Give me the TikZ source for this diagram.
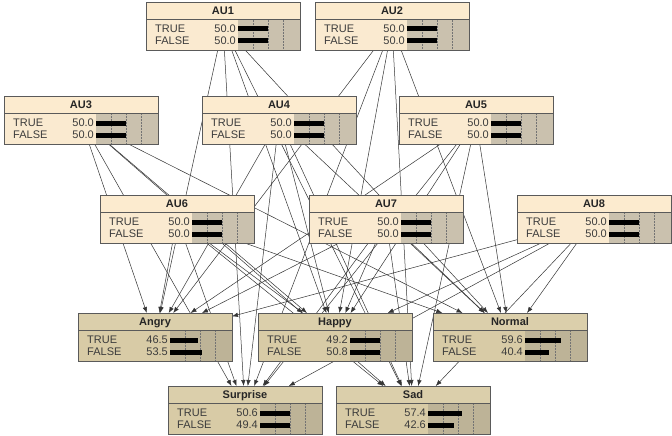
\documentclass[tikz,border=0pt]{standalone}
\usepackage{fontspec}
\setmainfont{Liberation Sans}
\usetikzlibrary{arrows.meta}
\pgfdeclarelayer{bg}
\pgfsetlayers{bg,main}
\definecolor{titleau}{HTML}{FCEBCF}
\definecolor{bodyau}{HTML}{FAEAD0}
\definecolor{barau}{HTML}{CAC1AE}
\definecolor{titleem}{HTML}{DBCFAB}
\definecolor{bodyem}{HTML}{D8CBA6}
\definecolor{barem}{HTML}{BDB397}
\definecolor{bordc}{HTML}{5A5A5A}
\definecolor{txtc}{HTML}{3C3C3C}
\definecolor{edgec}{HTML}{353535}
\tikzset{
  bnbox/.style={rectangle, anchor=north west, minimum width=154pt, minimum height=48pt, inner sep=0pt, outer sep=0pt},
  edge/.style={draw=edgec, line width=0.5pt, -{Latex[length=6pt,width=4.5pt]}},
  lbl/.style={inner sep=0pt, font=\fontsize{11}{13}\selectfont, text=txtc, text height=7.8pt, text depth=0pt},
  ttl/.style={inner sep=0pt, font=\fontsize{11}{13}\selectfont\bfseries, text=black!85, text height=7.8pt, text depth=0pt},
  bord/.style={draw=bordc, line width=0.8pt},
  tickln/.style={draw=black!55, densely dotted, line width=0.5pt}
}
\newcommand{\bnnode}[7]{%
  \node[bnbox, fill=body#7] (#1) at (#2,-#3) {};
  \begin{scope}[shift={(#1.north west)}]
    \fill[title#7] (0,0) rectangle (154,-17);
    \fill[bar#7] (92,-17) rectangle (154,-48);
    \foreach \p in {0.25,0.5,0.75}{\draw[tickln] ({92+60*\p},-18) -- ({92+60*\p},-48);}
    \fill[black] (92,-24.5) rectangle ({92+0.6*#5},-29.5);
    \fill[black] (92,-36.5) rectangle ({92+0.6*#6},-41.5);
    \draw[bord] (0,-17) -- (154,-17);
    \node[ttl] at (77,-8.5) {#4};
    \node[lbl, anchor=west] at (9,-27) {TRUE};
    \node[lbl, anchor=east] at (90,-27) {#5};
    \node[lbl, anchor=west] at (9,-39) {FALSE};
    \node[lbl, anchor=east] at (90,-39) {#6};
    \draw[bord] (0,0) rectangle (154,-48);
  \end{scope}
}
\begin{document}
\begin{tikzpicture}[x=1pt,y=1pt]
\useasboundingbox (0,0) rectangle (672,-436);
\bnnode{AU1}{146}{2}{AU1}{50.0}{50.0}{au}
\bnnode{AU2}{315}{2}{AU2}{50.0}{50.0}{au}
\bnnode{AU3}{4}{96}{AU3}{50.0}{50.0}{au}
\bnnode{AU4}{202}{96}{AU4}{50.0}{50.0}{au}
\bnnode{AU5}{399}{96}{AU5}{50.0}{50.0}{au}
\bnnode{AU6}{100}{195}{AU6}{50.0}{50.0}{au}
\bnnode{AU7}{309}{195}{AU7}{50.0}{50.0}{au}
\bnnode{AU8}{517}{195}{AU8}{50.0}{50.0}{au}
\bnnode{Angry}{78}{313}{Angry}{46.5}{53.5}{em}
\bnnode{Happy}{258}{313}{Happy}{49.2}{50.8}{em}
\bnnode{Normal}{433}{313}{Normal}{59.6}{40.4}{em}
\bnnode{Surprise}{168}{386}{Surprise}{50.6}{49.4}{em}
\bnnode{Sad}{336}{386}{Sad}{57.4}{42.6}{em}
\begin{pgfonlayer}{bg}
\fill[white] (0,0) rectangle (672,-436);
\foreach \s in {AU1,AU2,AU3,AU4,AU5,AU6,AU7,AU8}{
  \foreach \t in {Angry,Happy,Normal,Surprise,Sad}{
    \draw[edge] (\s) -- (\t);
  }
}
\end{pgfonlayer}
\end{tikzpicture}
\end{document}
